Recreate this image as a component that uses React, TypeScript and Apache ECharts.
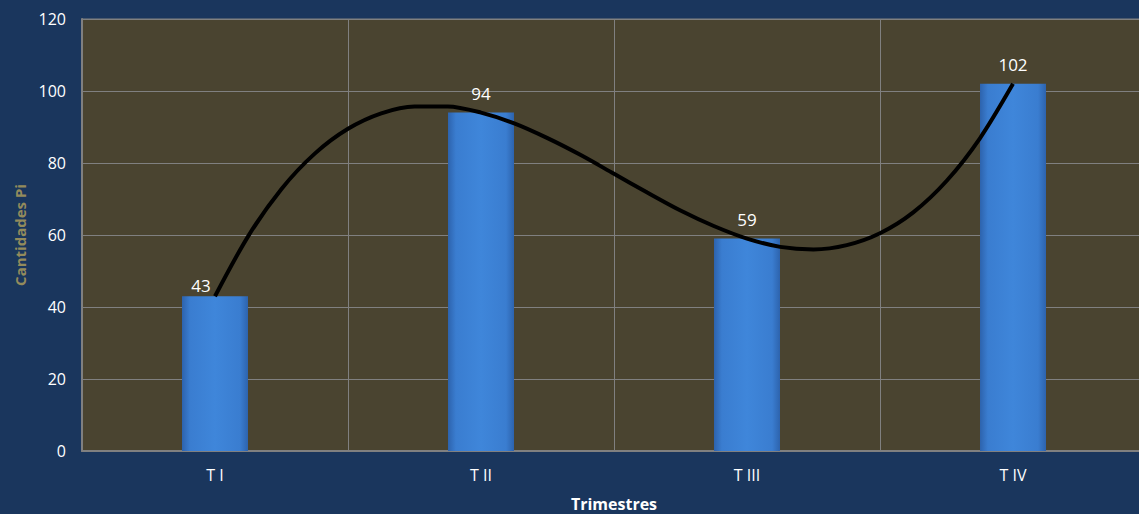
import React, { useEffect, useRef } from "react";
import * as echarts from "echarts";

const categories = ["T I", "T II", "T III", "T IV"];
const cantidades = [43, 94, 59, 102];
const yTicks = { min: 0, max: 120, interval: 20 };
// trend curve (position in category units, value)
const trendX = [
  0, 0.125, 0.25, 0.375, 0.5, 0.625, 0.75, 0.875, 1, 1.125, 1.25, 1.375, 1.5,
  1.625, 1.75, 1.875, 2, 2.125, 2.25, 2.375, 2.5, 2.625, 2.75, 2.875, 3,
];
const trendY = [
  43, 59.7, 72.8, 82.6, 89.5, 93.8, 95.7, 95.7, 94, 91, 86.9, 82.2, 77, 71.8,
  66.8, 62.5, 59, 56.7, 56, 57.2, 60.5, 66.3, 75, 86.8, 102,
];

const FONT = "'Open Sans', 'Noto Sans', sans-serif";

export default function App() {
  const ref = useRef<HTMLDivElement>(null);
  useEffect(() => {
    if (!ref.current) return;
    const chart = echarts.init(ref.current, undefined, { renderer: "svg" });
    const barGradient = new echarts.graphic.LinearGradient(0, 0, 1, 0, [
      { offset: 0, color: "#2d63ad" },
      { offset: 0.12, color: "#3a7dd0" },
      { offset: 0.5, color: "#3f86da" },
      { offset: 0.88, color: "#3a7dd0" },
      { offset: 1, color: "#2d63ad" },
    ]);
    chart.setOption({
      animation: false,
      backgroundColor: "#1a365d",
      grid: {
        left: 82,
        right: -7,
        top: 19,
        bottom: 63,
        show: true,
        backgroundColor: "#4a4430",
        borderColor: "#808080",
        borderWidth: 1,
        outerBoundsMode: "none",
      },
      xAxis: [
        {
          type: "category",
          data: categories,
          boundaryGap: true,
          name: "Trimestres",
          nameLocation: "middle",
          nameGap: 45,
          nameTextStyle: { color: "#ffffff", fontFamily: FONT, fontWeight: "bold", fontSize: 16 },
          axisLine: { show: true, lineStyle: { color: "#808080", width: 2 } },
          axisTick: { show: false },
          axisLabel: { color: "#ffffff", fontFamily: FONT, fontSize: 16, margin: 16 },
          splitLine: { show: true, interval: 0, lineStyle: { color: "#808080", width: 1 } },
        },
        {
          type: "value",
          min: -0.5,
          max: 3.5,
          show: false,
        },
      ],
      yAxis: {
        type: "value",
        min: yTicks.min,
        max: yTicks.max,
        interval: yTicks.interval,
        name: "Cantidades Pi",
        nameLocation: "middle",
        nameGap: 54,
        nameTextStyle: { color: "#938b5c", fontFamily: FONT, fontWeight: "bold", fontSize: 15 },
        axisLine: { show: true, onZero: false, lineStyle: { color: "#808080", width: 2 } },
        axisTick: { show: false },
        axisLabel: { color: "#ffffff", fontFamily: FONT, fontSize: 16, margin: 16 },
        splitLine: { show: true, lineStyle: { color: "#808080", width: 1 } },
      },
      series: [
        {
          type: "bar",
          data: cantidades.map((v, i) =>
            i === 0 ? { value: v, label: { offset: [-14, 9] } } : v
          ),
          barWidth: 66,
          itemStyle: { color: barGradient },
          label: {
            show: true,
            position: "top",
            distance: 11,
            color: "#ffffff",
            fontFamily: FONT,
            fontSize: 17,
          },
          z: 2,
        },
        {
          type: "line",
          xAxisIndex: 1,
          data: trendX.map((x, i) => [x, trendY[i]]),
          smooth: 0.3,
          showSymbol: false,
          symbol: "none",
          lineStyle: { color: "#000000", width: 4 },
          z: 5,
          silent: true,
        },
      ],
    });
    return () => chart.dispose();
  }, []);
  return (
    <div
      ref={ref}
      style={{ position: "fixed", left: 0, top: 0, width: 1139, height: 514 }}
    />
  );
}
